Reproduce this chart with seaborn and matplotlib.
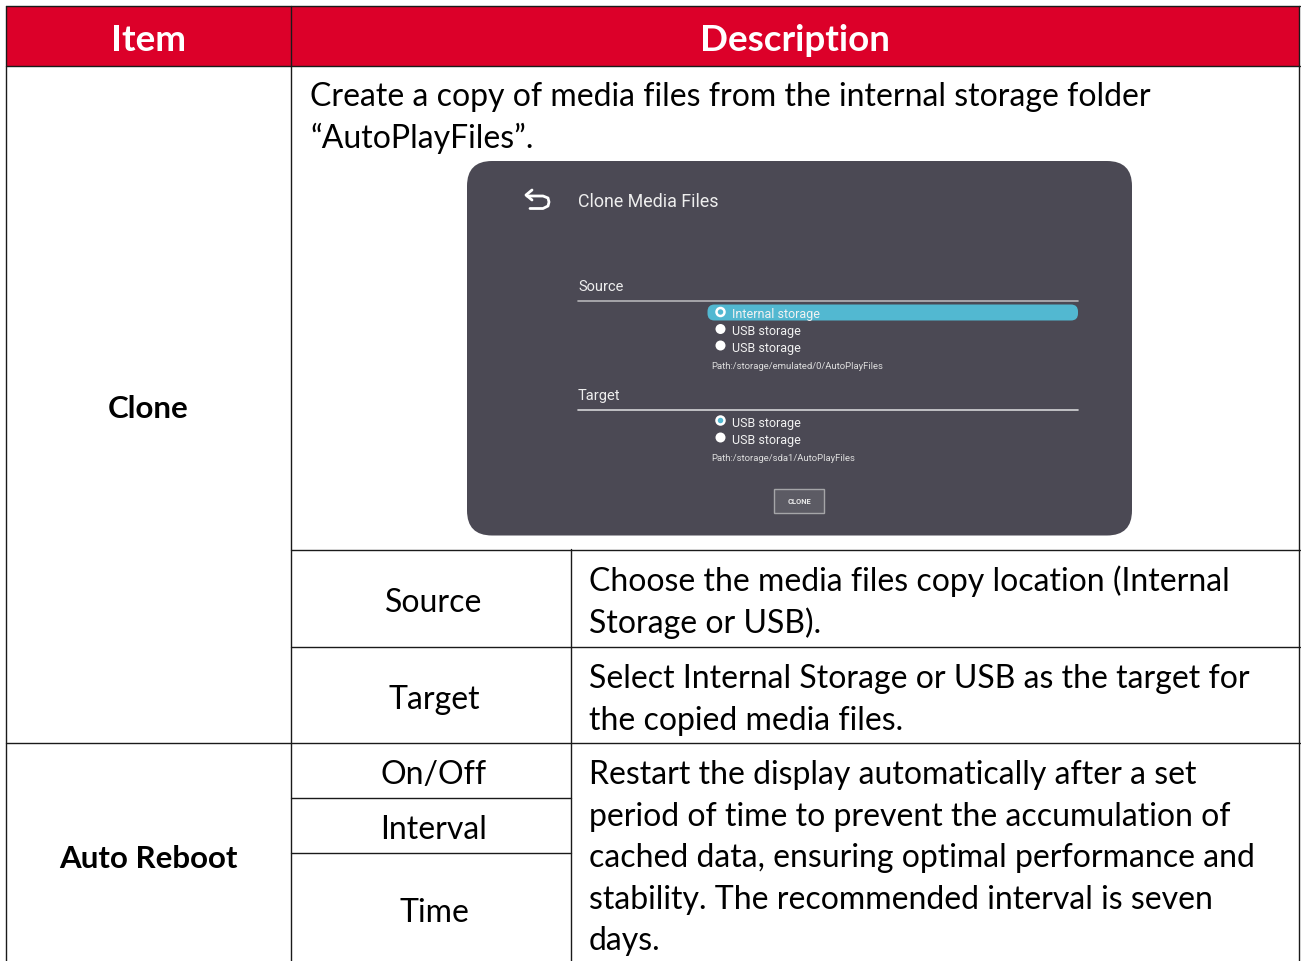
import pandas as pd
import seaborn as sns
import matplotlib.pyplot as plt
from matplotlib.patches import FancyBboxPatch, Rectangle, Circle

header = ['Item', 'Description']
items = ['Clone', 'Auto Reboot']
sub_items = ['Source', 'Target', 'On/Off', 'Interval', 'Time']
clone_desc = ['Create a copy of media files from the internal storage folder',
              '“AutoPlayFiles”.']
source_desc = ['Choose the media files copy location (Internal', 'Storage or USB).']
target_desc = ['Select Internal Storage or USB as the target for', 'the copied media files.']
reboot_desc = ['Restart the display automatically after a set',
               'period of time to prevent the accumulation of',
               'cached data, ensuring optimal performance and',
               'stability. The recommended interval is seven',
               'days.']
dlg_title = 'Clone Media Files'
dlg_source = ['Internal storage', 'USB storage', 'USB storage']
dlg_target = ['USB storage', 'USB storage']
dlg_paths = ['Path:/storage/emulated/0/AutoPlayFiles', 'Path:/storage/sda1/AutoPlayFiles']

RED = '#dc0029'
DLG = '#4b4954'
CYAN = '#52b8d1'
FS = 23.05
W, H = 1301, 962

sns.set_theme(style='white')
plt.rcParams['font.family'] = ['Lato', 'DejaVu Sans']

fig = plt.figure(figsize=(W / 100, H / 100), dpi=100)
ax = fig.add_axes([0, 0, 1, 1])

# table rules, one row per end of a segment
segs = [(6, 7, 6, 962), (291, 7, 291, 962), (570.5, 550, 570.5, 962), (1299, 7, 1299, 962),
        (6, 7, 1299.5, 7), (6, 66.5, 1299.5, 66.5), (291, 550.5, 1299.5, 550.5), (291, 647.5, 1299.5, 647.5),
        (6, 743.5, 1299.5, 743.5), (291, 798.5, 571, 798.5), (291, 853.5, 571, 853.5)]
rows = []
for i, (x0, y0, x1, y1) in enumerate(segs):
    rows.append({'rule': i, 'x': x0, 'y': y0})
    rows.append({'rule': i, 'x': x1, 'y': y1})
rules = pd.DataFrame(rows)

ax.add_patch(Rectangle((6, 7), 1293.5, 59.5, color=RED, lw=0, zorder=0))
sns.lineplot(data=rules, x='x', y='y', units='rule', estimator=None, sort=False,
             color='#1a1a1a', linewidth=1.0, ax=ax, legend=False)

ax.set_xlim(0, W)
ax.set_ylim(H, 0)
ax.axis('off')


def txt(x, y, s, size=FS, color='black', ha='left', weight='normal', family=None, z=5):
    ax.text(x, y, s, fontsize=size, color=color, ha=ha, va='center', fontweight=weight,
            family=family or ['Lato', 'DejaVu Sans'], zorder=z)


txt(148, 40.5, header[0], size=26.5, color='white', ha='center', weight='bold')
txt(795, 40.5, header[1], size=26.5, color='white', ha='center', weight='bold')
txt(148, 409.5, items[0], size=22.5, ha='center', weight='bold')
txt(148, 859.5, items[1], size=22.5, ha='center', weight='bold')

for s, y in zip(sub_items, [603, 700, 775, 830, 913]):
    txt(434, y, s, ha='center')
for lines, x, y0 in [(clone_desc, 310, 97), (source_desc, 589, 581.5), (target_desc, 589, 679),
                     (reboot_desc, 589, 775)]:
    for i, s in enumerate(lines):
        txt(x, y0 + i * 41.6, s)

# settings screenshot
ax.add_patch(FancyBboxPatch((492, 187), 615, 324.5, boxstyle='round,pad=25,rounding_size=25',
                            fc=DLG, ec='none', zorder=1))
RB = ['Roboto', 'DejaVu Sans']
ax.plot([527, 543, 548, 549, 548, 543, 530], [197, 197, 199, 203, 207, 209.5, 209.5], color='white', lw=2,
        zorder=3, solid_capstyle='round')
ax.plot([532, 526, 532], [191, 196, 201], color='white', lw=2, zorder=3)
txt(578.5, 202, dlg_title, size=12.85, color='#eeeeee', family=RB)
txt(578, 287.5, 'Source', size=10.5, color='#eeeeee', family=RB)
txt(578, 396, 'Target', size=10.5, color='#eeeeee', family=RB)
ax.plot([578, 1078], [301.5, 301.5], color='#b5b5b8', lw=1.2, zorder=3)
ax.plot([578, 1078], [410.5, 410.5], color='#d5d5d8', lw=1.2, zorder=3)
ax.add_patch(FancyBboxPatch((707.5, 305.5), 370.5, 16, boxstyle='round,pad=0,rounding_size=7',
                            fc=CYAN, ec='none', zorder=2))

for s, y in zip(dlg_source, [314.5, 331.5, 348.5]):
    txt(732, y, s, size=9.0, color='#f2f2f2', family=RB)
for s, y in zip(dlg_target, [423.5, 440.5]):
    txt(732, y, s, size=9.0, color='#f2f2f2', family=RB)
txt(711.5, 367, dlg_paths[0], size=6.8, color='#dddddd', family=RB)
txt(711.5, 458.5, dlg_paths[1], size=6.8, color='#dddddd', family=RB)

for y in [330, 346.5, 438.5]:
    ax.add_patch(Circle((720.5, y), 5, fc='white', ec='none', zorder=3))
ax.add_patch(Circle((720.5, 313), 4, fc=CYAN, ec='white', lw=1.8, zorder=3))
ax.add_patch(Circle((720.5, 421.5), 4, fc=CYAN, ec='white', lw=1.8, zorder=3))

ax.add_patch(Rectangle((774, 489.5), 49.5, 24.5, fc='#5c5b64', ec='#a5a5a8', lw=1, zorder=3))
txt(799, 502, 'CLONE', size=5.4, color='#e8e8e8', ha='center', weight='bold', family=RB)

fig.savefig('out.png', dpi=100)
